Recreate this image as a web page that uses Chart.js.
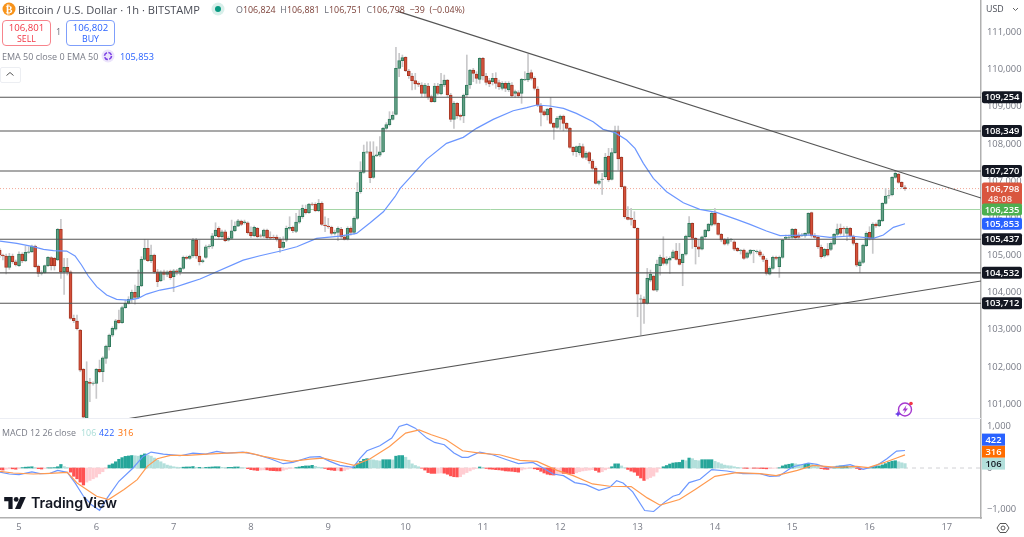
<!DOCTYPE html>
<html>
<head>
<meta charset="utf-8">
<title>BTCUSD</title>
<script src="https://cdn.jsdelivr.net/npm/chart.js@4/dist/chart.umd.min.js"></script>
<style>
  html, body { margin: 0; padding: 0; background: #fff; overflow: hidden; }
  body { width: 1024px; height: 537px; position: relative; font-family: "Open Sans", Roboto, sans-serif; color: #6a6d78; }
  canvas { position: absolute; left: 0; }
  #priceChart { top: 0; }
  #macdChart { top: 419px; }
  .abs { position: absolute; white-space: nowrap; }
  .box { position: absolute; top: 20px; width: 47px; height: 23px; background: #fff; border-radius: 4px; text-align: center; font-size: 8.8px; line-height: 11px; padding-top: 1px; }
  .box b { display: block; font-weight: 500; font-size: 9.6px; line-height: 12px; }
</style>
</head>
<body>
<canvas id="priceChart" width="1024" height="419"></canvas>
<canvas id="macdChart" width="1024" height="118"></canvas>

<div class="abs" style="left:0;top:418px;width:981px;height:1px;background:#eceef4"></div>

<svg class="abs" style="left:2px;top:2px" width="14" height="14"><circle cx="7" cy="7" r="6.5" fill="#f7931a"/><text x="7" y="10.5" font-size="10" font-weight="bold" fill="#fff" text-anchor="middle" font-family="DejaVu Sans">₿</text></svg>
<div class="abs" style="left:18px;top:1px;font-size:11.1px;line-height:17px;color:#4a4d57">Bitcoin / U.S. Dollar · 1h · BITSTAMP</div>
<svg class="abs" style="left:211px;top:2px" width="14" height="14"><circle cx="7" cy="7" r="6.5" fill="#d8efea"/><circle cx="7" cy="7" r="3" fill="#089981"/></svg>
<div class="abs" style="left:236px;top:1px;font-size:8.9px;line-height:17px;word-spacing:2.4px;color:#7c4038"><span style="color:#6a6d78">O</span>106,824 <span style="color:#6a6d78">H</span>106,881 <span style="color:#6a6d78">L</span>106,751 <span style="color:#6a6d78">C</span>106,798 −39 (−0.04%)</div>

<div class="box" style="left:2px;border:1px solid #f7848c;color:#f23645"><b>106,801</b>SELL</div>
<div class="abs" style="left:56px;top:26px;font-size:9px;line-height:12px">1</div>
<div class="box" style="left:66px;border:1px solid #7f9ffb;color:#2962ff"><b>106,802</b>BUY</div>

<div class="abs" style="left:2px;top:49px;font-size:9px;line-height:15px;color:#787b86">EMA 50 close 0 EMA 50</div>
<svg class="abs" style="left:101px;top:49px" width="14" height="14"><circle cx="7" cy="7" r="6.5" fill="#ece4fb"/><circle cx="7" cy="7" r="3.5" fill="none" stroke="#7b3fe4" stroke-width="1.6" stroke-dasharray="4 1.5"/></svg>
<div class="abs" style="left:120px;top:49px;font-size:9.2px;line-height:15px;color:#2962ff">105,853</div>
<div class="abs" style="left:0;top:67px;width:19px;height:14px;border:1px solid #eceef2;border-radius:2px;background:#fff"></div>
<svg class="abs" style="left:5px;top:71px" width="10" height="6"><path d="M1.5 4.5 L5 1.5 L8.5 4.5" fill="none" stroke="#555" stroke-width="1"/></svg>

<div class="abs" style="left:2px;top:425px;font-size:8.9px;line-height:15px;color:#787b86">MACD 12 26 close</div>
<div class="abs" style="left:81px;top:425px;font-size:8.9px;line-height:15px;color:#a8dcd6">106</div>
<div class="abs" style="left:99px;top:425px;font-size:8.9px;line-height:15px;color:#2962ff">422</div>
<div class="abs" style="left:118px;top:425px;font-size:8.9px;line-height:15px;color:#ff6d00">316</div>

<svg class="abs" style="left:4px;top:497px" width="22" height="12" viewBox="0 0 36 20"><path d="M0 0 H14 V20 H7 V7 H0 Z" fill="#131722"/><circle cx="20" cy="4" r="4" fill="#131722"/><path d="M27 0 H36 L27 20 H18 Z" fill="#131722"/></svg>
<div class="abs" style="left:31px;top:493px;font-family:Inter,Roboto,sans-serif;font-size:14.3px;line-height:20px;font-weight:600;color:#131722;letter-spacing:-0.1px">TradingView</div>

<svg class="abs" style="left:894px;top:400px" width="22" height="20"><circle cx="11" cy="9.5" r="6.5" fill="#fff" stroke="#a63ad0" stroke-width="1.4"/><path d="M12.5 5 L8.5 10.5 H11 L9.5 14 L14 8.5 H11.5 Z" fill="#a63ad0"/><circle cx="17" cy="3.5" r="1.8" fill="#f23645"/><path d="M4 11 l1 2 l2 1 l-2 1 l-1 2 l-1 -2 l-2 -1 l2 -1 Z" fill="#6a3de8"/></svg>

<div class="abs" style="left:986px;top:2px;font-size:8.8px;line-height:14px;color:#4a4d57">USD</div>
<svg class="abs" style="left:1012px;top:7px" width="7" height="5"><path d="M1 1 L3.5 3.5 L6 1" fill="none" stroke="#666" stroke-width="1"/></svg>
<svg class="abs" style="left:995px;top:520px" width="16" height="16"><path d="M5 3.5 H11 L14 8 L11 12.5 H5 L2 8 Z" fill="none" stroke="#555" stroke-width="1"/><circle cx="8" cy="8" r="2" fill="none" stroke="#555" stroke-width="1"/></svg>

<script>
// hours counted from the start of day 5, one candle per hour
const firstHour = -6;
const hourMin = -5.9;
const hourMax = 298.6;

const dayHours = [0, 24, 48, 72, 96, 120, 144, 168, 192, 216, 240, 264, 288];
const dayLabels = ["5", "6", "7", "8", "9", "10", "11", "12", "13", "14", "15", "16", "17"];

const priceTicks = [101000, 102000, 103000, 104000, 105000, 106000, 107000, 108000, 109000, 110000, 111000];
const macdTicks = [-1000, 0, 1000];

const candleOpen = [
  105145,105011,104984,104679,104984,104831,104724,105038,104849,105083,
  105100,105253,104715,104517,104535,104724,104939,104921,104876,105701,
  104562,104679,104562,103306,103235,102993,101934,100620,101584,101557,
  101557,101934,101871,102230,102544,102858,103019,103262,103190,103594,
  103710,103818,104006,103872,104177,104894,105190,104858,105011,104562,
  104320,104562,104490,104580,104428,104589,104562,104652,104948,104921,
  104984,105415,104984,104831,104947,105234,105252,105530,105727,105503,
  105637,105413,105458,105664,105790,105924,105879,105879,105619,105530,
  105727,105530,105521,105682,105485,105485,105494,105431,105216,105413,
  105727,105754,105646,105897,106041,106238,106148,106382,106373,106202,
  106400,105817,105790,105754,105592,105619,105700,105503,105440,105727,
  105619,105996,106714,107234,107781,107790,107099,107674,107700,107790,
  108418,108517,108660,108795,110033,110239,110329,109961,109826,109701,
  109629,109584,109360,109557,109270,109136,109557,109342,109584,109719,
  109315,108660,109091,108768,108750,109315,109584,109988,109880,109736,
  110302,109826,109701,109674,109763,109647,109494,109629,109450,109584,
  109360,109378,109360,109719,109719,109916,109763,109476,109028,108867,
  108777,108956,108553,108445,108660,108750,108553,108418,107907,107790,
  107764,107925,107638,107764,107539,107342,106938,107046,107118,107674,
  107046,107764,108329,107638,106849,106023,105997,105952,105727,103826,
  103826,103709,104337,104445,104068,104723,104938,104786,104875,104938,
  105118,104902,104804,105037,105503,105862,105459,105234,105171,105503,
  105665,105817,106131,105862,105566,105432,105324,105414,105369,105189,
  105127,105145,104947,105055,105127,105100,105100,104983,104876,104499,
  104652,104948,104696,104948,105459,105486,105486,105701,105549,105531,
  105522,105593,106150,105522,105486,105217,104983,105163,105163,105306,
  105567,105728,105728,105593,105728,105522,105324,104723,104813,105262,
  105620,105459,105845,105791,105925,106401,106598,106625,107100,107190,
  106966,106824
];
const candleClose = [
  105011,104984,104679,104984,104831,104742,105038,104849,105083,105100,
  105253,104697,104517,104535,104724,104948,104724,104715,105701,104562,
  104679,104562,103306,103244,103028,101916,100650,101620,101557,101565,
  101934,101871,102248,102562,102858,103037,103244,103190,103594,103710,
  103818,104006,103872,104177,104894,105190,104858,105011,104562,104293,
  104562,104490,104562,104401,104589,104562,104652,104948,104921,104984,
  105415,104984,104831,104860,105234,105250,105530,105682,105503,105637,
  105395,105458,105664,105790,105933,105835,105906,105610,105530,105754,
  105503,105520,105682,105476,105467,105475,105431,105207,105350,105727,
  105758,105664,105897,106059,106265,106148,106382,106370,106202,106400,
  105835,105800,105772,105592,105619,105727,105503,105431,105727,105619,
  105996,106696,107234,107781,107790,107090,107682,107709,107790,108418,
  108517,108669,108768,110033,110239,110320,109970,109835,109701,109611,
  109602,109360,109584,109252,109136,109557,109360,109602,109719,109315,
  108660,109091,108750,108741,109315,109584,109988,109898,109763,110302,
  109826,109656,109611,109763,109629,109539,109629,109494,109629,109288,
  109405,109288,109736,109736,109898,109763,109494,109046,108849,108777,
  108938,108553,108445,108687,108750,108553,108418,107907,107790,107925,
  107943,107638,107746,107539,107342,106938,107001,107055,107638,107028,
  107764,108329,107593,106849,106041,105970,105970,105745,103960,103835,
  103709,104382,104499,104068,104768,104947,104786,104893,104920,105100,
  104893,104759,105037,105521,105862,105459,105234,105171,105503,105683,
  105844,106131,105844,105566,105414,105306,105432,105432,105171,105127,
  105145,104920,105073,105145,105135,105110,105010,104894,104517,104652,
  104948,104921,104948,105414,105486,105495,105701,105477,105486,105549,
  105593,106132,105522,105486,105235,104966,105163,105010,105324,105567,
  105710,105593,105710,105728,105522,105324,104741,104831,105280,105594,
  105459,105845,105791,105952,106401,106598,106607,107100,107208,106966,
  106849,106798
];
const candleHigh = [
  105190,105038,105038,105056,105038,104876,105100,105074,105253,105235,
  105280,105280,104742,104589,104742,104966,104966,104948,105728,105971,
  104921,104921,104589,103396,103396,103011,101961,102140,101692,101602,
  101961,102185,102275,102589,102885,103082,103280,103531,103638,103800,
  103890,104069,104203,104607,104966,105432,105415,105280,105038,104625,
  104589,104607,104589,104607,104625,104625,104679,104984,104984,105011,
  105460,105460,105415,104900,105279,105290,105592,105879,105772,105682,
  105682,105503,105951,105906,105969,105951,105951,105906,105772,105790,
  105754,105574,105709,105709,105637,105548,105548,105485,105503,105790,
  106041,105790,106131,106220,106355,106355,106400,106418,106418,106507,
  106445,106041,105996,105790,105682,105772,105754,105548,105772,105772,
  106041,106956,107521,107969,108059,108059,108059,107925,108194,108445,
  108571,108866,108866,110598,110436,110391,110347,110006,109898,109898,
  109674,109647,109629,109629,109315,109629,109629,109898,109853,109737,
  109360,109136,109109,108804,109342,110391,110006,110033,109943,110320,
  110329,109898,109763,109898,109916,109719,109674,109674,109674,109647,
  109450,109432,109763,109943,110418,109988,109808,109539,109091,108911,
  108956,109252,108571,108732,108777,108777,108571,108445,107925,107943,
  108015,107997,107791,107791,107584,107387,107028,107208,107746,107880,
  107880,108481,108481,107656,106867,106311,106266,106176,105745,103934,
  103889,104651,104606,104472,104875,105010,105503,104965,104965,105145,
  105324,105324,105037,105548,106042,105880,105485,105414,105521,105701,
  105862,106176,106266,105880,105593,105459,105485,105459,105396,105216,
  105163,105171,105100,105163,105145,105145,105145,105037,104921,104696,
  104983,104983,104983,105432,105549,105549,105728,105728,105611,105593,
  105611,106150,106168,105593,105522,105280,105190,105324,105369,105593,
  105845,105845,105773,105773,105755,105549,105342,104876,105306,105638,
  105773,105880,105880,105970,106419,106804,106760,107118,107280,107208,
  106984,106881
];
const candleLow = [
  104948,104876,104500,104625,104786,104715,104697,104804,104831,105056,
  105074,104679,104428,104473,104517,104697,104607,104607,104858,104383,
  103952,104473,103280,103190,102993,101871,100400,100500,101064,101512,
  101154,101844,101602,102096,102454,102813,102993,103172,103172,103576,
  103692,103728,103692,103845,104159,104876,104831,104804,104517,104159,
  104293,104338,104428,104356,104024,104473,104473,104625,104894,104894,
  104948,104921,104742,104800,104920,105190,105189,105503,105458,105458,
  105368,105386,105440,105637,105772,105799,105844,105574,105485,105503,
  105476,105485,105485,105440,105431,105440,105386,105081,105189,105368,
  105682,105610,105610,105861,105996,106113,106131,106337,106175,106175,
  105808,105637,105727,105548,105548,105395,105458,105413,105413,105548,
  105574,105969,106669,107207,107745,106956,107072,107656,107656,107763,
  108391,108481,108642,108777,109808,110077,109943,109763,109450,109467,
  109539,109270,109270,109198,109118,109118,109315,109315,109539,109270,
  108597,108418,108687,108642,108571,109270,109494,109674,109629,109629,
  109719,109584,109539,109584,109494,109467,109450,109405,109405,109270,
  109252,109252,109091,109701,109674,109719,109450,109001,108481,108750,
  108642,108535,108122,108418,108391,108355,108391,107880,107700,107656,
  107701,107611,107584,107477,107297,106921,106894,106642,107073,106983,
  107028,107746,107297,106831,105997,105952,105817,105727,103350,102857,
  103171,103691,104292,104050,104023,104472,104741,104741,104517,104920,
  104875,104741,104185,105010,105485,105189,104768,104965,105145,105459,
  105638,105790,105817,105548,105369,105279,105279,105369,105127,105100,
  105037,104893,104920,105010,104803,105055,104965,104831,104472,104472,
  104625,104876,104410,104921,105432,105432,105459,105432,105459,105504,
  105486,105549,105486,105459,105190,104921,104948,104983,105127,105280,
  105522,105549,105522,105396,105486,105280,104696,104535,104786,105235,
  105414,105055,105755,105773,105907,106383,106535,106598,107074,106939,
  106804,106751
];

const emaHours = [-5.9,-0.7,4.4,7.6,10.7,14.8,17.4,19.4,21.5,24.1,27.2,30.3,33.9,37,39.6,43.8,47.9,52,56.2,69.6,74.8,81.5,86.2,92.4,99.6,104.8,109,113.1,116.7,118.3,126.5,132.7,137.9,142,147.2,153.4,157.6,160.7,164.8,169,173,178.2,181.3,185,188.6,191.2,193.8,196.9,201,206.2,211.3,216.5,222.7,226.9,232,236.2,245.5,251.7,257.9,265.2,268.3,271.4,275];
const emaValues = [105387,105325,105235,105163,105127,105118,104984,104742,104446,104159,103934,103818,103800,103845,103961,104069,104132,104248,104365,104875,104991,105126,105234,105458,105521,105592,105879,106175,106579,106803,107584,108014,108176,108418,108660,108893,108974,109046,109019,108956,108822,108598,108392,108302,108105,107880,107477,107073,106714,106418,106239,106158,105970,105836,105656,105531,105549,105486,105522,105459,105549,105755,105853];

const levelPrices = [109254, 108349, 107270, 105437, 104532, 103712];
const lastPrice = 106798;
const lastPriceCountdown = "48:08";
const greenLevel = 106235;
const emaLast = 105853;

const upperTrendHours = [117.6, 298.6];
const upperTrendPrices = [111565, 106545];
const lowerTrendHours = [31.3, 298.6];
const lowerTrendPrices = [100573, 104312];

const macdHours = [-6,-3,0,4,6.5,9.6,12,15,17.4,20,22.7,25,27.4,31,35.4,38.5,41,44.8,50,54,58,61.4,64.5,69.5,73.8,78,82,85,90.3,93.4,96.5,99.6,103.7,105.9,108,112,115.7,118,120.4,123,126.6,129,132,135,137.5,139.4,143,147,151.4,155,159.5,162.7,165.8,169,172.5,176,180,183.4,185.5,187.5,190.5,194.2,197,200.5,203,205,208,211.4,215,219.7,224.7,230,233,236,240,245,247.7,251,255,258,262,266,269.4,272.4,275];
const macdValues = [-96,-144,-160,-96,-136,-128,-56,-104,-360,-680,-900,-1020,-720,-320,0,280,384,336,296,360,336,400,360,384,320,224,104,136,264,272,160,64,16,240,416,536,720,1000,1056,960,720,616,560,360,256,256,384,320,200,104,136,0,-144,-184,-352,-400,-536,-464,-304,-360,-576,-1024,-1048,-816,-680,-632,-352,-272,-40,-72,-136,-136,-200,-192,24,120,88,0,48,80,-32,48,224,408,422];

const signalHours = [-6,-1.8,4.4,9.6,15,18,24.1,27.8,32.6,36.7,39.8,42.9,47,52.2,58.4,64.5,70.7,75.9,81,84.6,90.3,94.4,99.6,104,109,115,120,124.2,128,132.6,137.7,143,149.2,155.5,160.8,167,172,178,183.4,190,195,199,205,210,216,222.6,230,235,241.6,246.5,254,260,263.6,268.4,272.4,275];
const signalValues = [-80,-120,-144,-128,-104,-360,-680,-760,-520,-280,40,224,304,304,336,360,376,280,200,160,216,240,144,64,224,520,840,920,800,680,416,360,320,184,160,-56,-184,-384,-440,-448,-720,-896,-760,-512,-200,-112,-136,-184,-56,64,16,40,8,128,240,316];

const macdHist = [
  -40,-50,-30,-20,-20,-30,-10,10,20,25,
  30,10,-15,-25,-10,5,5,10,30,85,
  35,10,-100,-200,-260,-340,-410,-340,-300,-260,
  -220,-140,-90,-20,70,100,150,210,250,280,
  290,300,295,285,310,340,310,285,240,190,
  150,105,70,50,30,20,15,20,25,25,
  35,15,15,10,15,20,25,30,30,15,
  10,15,15,25,25,10,5,-15,-40,-50,
  -60,-50,-45,-45,-60,-65,-70,-70,-55,-30,
  -10,-5,10,25,40,50,50,65,40,20,
  15,-10,-40,-50,-60,-55,-70,-60,-30,-10,
  30,100,160,210,225,200,195,180,170,200,
  200,200,195,285,300,300,260,190,100,60,
  30,-5,-50,-110,-130,-130,-125,-120,-125,-150,
  -190,-210,-215,-210,-150,-110,-70,-30,-10,25,
  15,-10,-25,-30,-40,-45,-55,-70,-75,-80,
  -90,-100,-50,-25,-10,-5,-20,-40,-80,-120,
  -150,-165,-170,-140,-130,-130,-130,-135,-140,-115,
  -90,-70,-60,-50,-40,-60,-100,-90,-45,-10,
  30,100,100,50,5,-35,-75,-100,-180,-240,
  -300,-265,-230,-195,-100,-10,30,60,95,120,
  130,135,190,175,240,225,185,175,200,200,
  200,200,160,130,100,70,55,50,30,15,
  5,-5,-10,-5,-5,-5,-10,-15,-20,-15,
  -8,-2,5,50,75,90,105,100,85,80,
  90,105,95,70,50,-15,-30,-35,-15,5,
  45,50,50,50,40,20,-10,-40,-25,-5,
  10,25,40,50,75,105,140,165,175,150,
  125,106
];

const fmt = (v) => v.toLocaleString("en-US").replace("-", "\u2212");
const pairs = (xs, ys) => xs.map((x, i) => ({ x: x, y: ys[i] }));
const flatLine = (v) => [{ x: hourMin, y: v }, { x: hourMax, y: v }];
const axisFont = { size: 9.4, family: '"Open Sans", Roboto, sans-serif' };
const tagFont = '600 9.4px "Open Sans", Roboto, sans-serif';

function lineSet(data, color, width, order, dash) {
  return {
    type: "line", data: data, borderColor: color, borderWidth: width, borderDash: dash || [],
    pointRadius: 0, tension: 0, fill: false, order: order
  };
}

// keep the panes flush with the canvas and the price axis a fixed width
function fitRightAxis(scale) {
  scale.width = 43;
  scale.paddingTop = 0;
  scale.paddingBottom = 0;
}
function fitTimeAxis(scale) {
  scale.height = 19;
  scale.paddingLeft = 0;
  scale.paddingRight = 0;
}

function drawTag(ctx, y, h, text, bg, fg) {
  ctx.fillStyle = bg;
  ctx.beginPath();
  ctx.roundRect(982, y - 6, 40, h, 2);
  ctx.fill();
  ctx.fillStyle = fg;
  ctx.textAlign = "center";
  ctx.textBaseline = "middle";
  ctx.fillText(text, 1002, y + 0.5);
}

const priceTags = {
  id: "priceTags",
  afterDraw(chart) {
    const { ctx, scales } = chart;
    const y = scales.y;
    ctx.save();
    ctx.font = tagFont;
    levelPrices.forEach((p) => drawTag(ctx, y.getPixelForValue(p), 12, fmt(p), "#131722", "#fff"));
    const lastY = y.getPixelForValue(lastPrice);
    drawTag(ctx, lastY, 23, fmt(lastPrice), "#d9563f", "#fff");
    ctx.fillStyle = "#fbe3de";
    ctx.fillText(lastPriceCountdown, 1000, lastY + 11);
    drawTag(ctx, y.getPixelForValue(greenLevel), 12, fmt(greenLevel), "#4caf50", "#fff");
    drawTag(ctx, y.getPixelForValue(emaLast), 12, fmt(emaLast), "#2962ff", "#fff");
    ctx.restore();
  }
};

const macdTags = {
  id: "macdTags",
  afterDraw(chart) {
    const { ctx, scales } = chart;
    const y = scales.y.getPixelForValue(macdHist[macdHist.length - 1]);
    ctx.save();
    ctx.font = tagFont;
    const tag = (yy, text, bg, fg) => {
      ctx.fillStyle = bg;
      ctx.fillRect(982, yy - 6, 23, 12);
      ctx.fillStyle = fg;
      ctx.textAlign = "center";
      ctx.textBaseline = "middle";
      ctx.fillText(text, 993.5, yy + 0.5);
    };
    tag(y, "106", "#b2dfdb", "#131722");
    tag(y - 12, "316", "#ff6d00", "#fff");
    tag(y - 24, "422", "#2962ff", "#fff");
    ctx.restore();
  }
};

const candleBars = candleOpen.map((o, i) => ({ x: firstHour + i, y: [o, candleClose[i]] }));
const wickBars = candleHigh.map((h, i) => ({ x: firstHour + i, y: [candleLow[i], h] }));
const bodyFill = candleOpen.map((o, i) => (candleClose[i] >= o ? "#639f85" : "#d4503a"));
const bodyEdge = candleOpen.map((o, i) => (candleClose[i] >= o ? "#2f7a5c" : "#a53724"));

const priceCtx = document.getElementById("priceChart");
new Chart(priceCtx, {
  type: "bar",
  data: {
    datasets: [
      { data: wickBars, backgroundColor: "#c8c8ca", barThickness: 1, grouped: false, order: 6 },
      { data: candleBars, backgroundColor: bodyFill, borderColor: bodyEdge, borderWidth: 1, borderSkipped: false, barThickness: 3, grouped: false, order: 5 },
      lineSet(pairs(emaHours, emaValues), "#6b96ff", 1.2, 4),
      lineSet(flatLine(lastPrice), "#f2a897", 1, 7, [1, 2]),
      lineSet(flatLine(greenLevel), "#a5d6a7", 1, 7),
      ...levelPrices.map((p) => lineSet(flatLine(p), "#555", 1.1, 3)),
      lineSet(pairs(upperTrendHours, upperTrendPrices), "#555", 1.1, 2),
      lineSet(pairs(lowerTrendHours, lowerTrendPrices), "#555", 1.1, 2)
    ]
  },
  options: {
    responsive: false,
    animation: false,
    events: [],
    layout: { padding: 0 },
    plugins: { legend: { display: false }, tooltip: { enabled: false } },
    scales: {
      x: { type: "linear", min: hourMin, max: hourMax, display: false, offset: false, grid: { display: false } },
      y: {
        position: "right", min: 100600, max: 111871,
        afterFit: fitRightAxis,
        afterBuildTicks: (s) => { s.ticks = priceTicks.map((v) => ({ value: v })); },
        grid: { display: false, drawTicks: false },
        border: { display: true, color: "#b0b0b0", width: 1.5 },
        ticks: { padding: 6, color: "#787b86", font: axisFont, callback: (v) => fmt(v) }
      }
    }
  },
  plugins: [priceTags]
});

const histBars = macdHist.map((v, i) => ({ x: firstHour + i, y: v }));
const histFill = macdHist.map((v, i) => {
  const prev = i > 0 ? macdHist[i - 1] : 0;
  if (v >= 0) return v >= prev ? "#26a69a" : "#b2dfdb";
  return v <= prev ? "#ff5252" : "#ffcdd2";
});

const macdCtx = document.getElementById("macdChart");
new Chart(macdCtx, {
  type: "bar",
  data: {
    datasets: [
      { data: histBars, backgroundColor: histFill, barThickness: 2.6, grouped: false, order: 4 },
      lineSet(flatLine(0), "#d0d0d4", 1, 5, [4, 4]),
      lineSet(pairs(macdHours, macdValues), "#6b96ff", 1.2, 2),
      lineSet(pairs(signalHours, signalValues), "#ff9a50", 1.2, 1)
    ]
  },
  options: {
    responsive: false,
    animation: false,
    events: [],
    layout: { padding: 0 },
    plugins: { legend: { display: false }, tooltip: { enabled: false } },
    scales: {
      x: {
        type: "linear", min: hourMin, max: hourMax, offset: false,
        afterFit: fitTimeAxis,
        afterBuildTicks: (s) => { s.ticks = dayHours.map((v) => ({ value: v })); },
        grid: { display: false, drawTicks: false },
        border: { display: true, color: "#b0b0b0", width: 1.5 },
        ticks: { padding: 4, maxRotation: 0, autoSkip: false, color: "#787b86", font: axisFont, callback: (v) => dayLabels[dayHours.indexOf(v)] }
      },
      y: {
        position: "right", min: -1205, max: 1181,
        afterFit: fitRightAxis,
        afterBuildTicks: (s) => { s.ticks = macdTicks.map((v) => ({ value: v })); },
        grid: { display: false, drawTicks: false },
        border: { display: true, color: "#b0b0b0", width: 1.5 },
        ticks: { padding: 6, color: "#787b86", font: axisFont, callback: (v) => fmt(v) }
      }
    }
  },
  plugins: [macdTags]
});
</script>
</body>
</html>
